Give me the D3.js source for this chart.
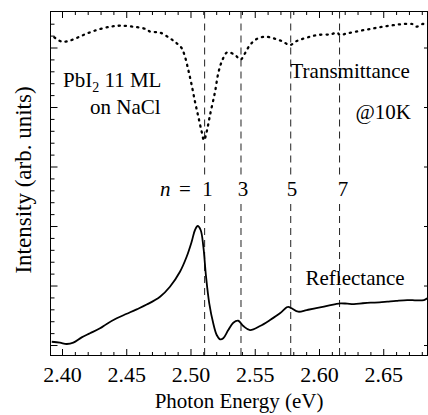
<!DOCTYPE html>
<html>
<head>
<meta charset="utf-8">
<script src="https://cdn.jsdelivr.net/npm/d3@7"></script>
<style>
  body { margin: 0; background: #fff; }
</style>
</head>
<body>
<div class="chart"></div>
<script>
// PbI2 11 ML on NaCl, transmittance (dotted) and reflectance (solid) at 10 K

// photon energy (eV) of the transmittance trace
var transE = [2.394, 2.400, 2.4075, 2.4166, 2.427, 2.4374, 2.4451, 2.4555, 2.4659, 2.4685,
  2.4763, 2.4840, 2.4893, 2.4932, 2.4957, 2.4983, 2.5009, 2.5035, 2.5061, 2.5087,
  2.5105, 2.5126, 2.5152, 2.5191, 2.5216, 2.5243, 2.5286, 2.5346, 2.5390, 2.5424,
  2.5463, 2.5515, 2.5580, 2.5644, 2.5710, 2.5774, 2.5826, 2.5904, 2.5987, 2.6091,
  2.6142, 2.6163, 2.6220, 2.6324, 2.6428, 2.6531, 2.6636, 2.6726, 2.6760, 2.6804, 2.6843];
// transmittance intensity (arb. units)
var transI = [5.171, 5.097, 5.126, 5.210, 5.294, 5.350, 5.366, 5.350, 5.306, 5.266,
  5.250, 5.155, 5.071, 4.987, 4.845, 4.622, 4.370, 4.089, 3.837, 3.585,
  3.440, 3.585, 3.866, 4.257, 4.566, 4.761, 4.919, 4.874, 4.798, 4.903,
  5.042, 5.143, 5.182, 5.155, 5.109, 5.042, 5.109, 5.165, 5.210, 5.222,
  5.249, 5.210, 5.239, 5.282, 5.323, 5.361, 5.390, 5.395, 5.350, 5.395, 5.378];

// photon energy (eV) of the reflectance trace
var reflE = [2.392, 2.3984, 2.4037, 2.4088, 2.4153, 2.4218, 2.4296, 2.4348, 2.4426, 2.4504,
  2.4581, 2.4659, 2.4763, 2.4840, 2.4918, 2.4970, 2.5009, 2.5035, 2.5056,
  2.5079, 2.5100, 2.5121, 2.5146, 2.5177, 2.5204, 2.5230, 2.5255, 2.5294, 2.5333,
  2.5372, 2.5411, 2.5463, 2.5541, 2.5619, 2.5696, 2.5749, 2.5762, 2.5787, 2.5839,
  2.5904, 2.5970, 2.6039, 2.6130, 2.6169, 2.6220, 2.6272, 2.6340, 2.6402, 2.6470,
  2.6531, 2.6600, 2.6687, 2.6760, 2.6817, 2.6843];
// reflectance intensity (arb. units)
var reflI = [0.055, 0.039, 0.017, 0.039, 0.129, 0.197, 0.281, 0.355, 0.449, 0.525,
  0.600, 0.680, 0.812, 0.980, 1.232, 1.484, 1.736, 1.933, 2.000,
  1.933, 1.652, 1.148, 0.701, 0.365, 0.168, 0.096, 0.113, 0.252, 0.375,
  0.408, 0.319, 0.252, 0.319, 0.420, 0.533, 0.634, 0.642, 0.617, 0.560,
  0.588, 0.615, 0.644, 0.689, 0.701, 0.695, 0.689, 0.702, 0.711, 0.716,
  0.728, 0.742, 0.756, 0.750, 0.756, 0.785];

// exciton series positions
var excitonE = [2.511, 2.5393, 2.578, 2.616];
var excitonN = ["1", "3", "5", "7"];

// axis ticks
var xMajor = [2.40, 2.45, 2.50, 2.55, 2.60, 2.65];
var xTickLabels = ["2.40", "2.45", "2.50", "2.55", "2.60", "2.65"];
var yMajor = [0, 1, 2, 3, 4, 5];

var serif = "Times New Roman";

var svgWidth = 428;
var svgHeight = 415;

var box = { left: 50.5, right: 427.5, top: 11.5, bottom: 355.5 };

var svg = d3.select(".chart")
  .append("svg")
  .attr("width", svgWidth)
  .attr("height", svgHeight);

var xScale = d3.scaleLinear()
  .domain([2.39105, 2.68444])
  .range([box.left, box.right]);

var yScale = d3.scaleLinear()
  .domain([-0.176, 5.605])
  .range([box.bottom, box.top]);

var xMinor = d3.range(240, 269).map(d => d / 100).filter(d => Math.round(d * 100) % 5 !== 0);
var yMinor = d3.range(0, 28).map(d => d / 5).filter(d => Math.round(d * 5) % 5 !== 0);

//__________________________________________________________________________________
// tick marks point inward on all four sides
function addAxis(axis, tx, ty) {
  var g = svg.append("g")
    .attr("transform", `translate(${tx}, ${ty})`)
    .call(axis);
  g.attr("font-family", serif).attr("font-size", 22);
  g.select(".domain").remove();
  g.selectAll(".tick line").attr("stroke", "#000");
  g.selectAll(".tick text").attr("fill", "#000");
  return g;
}

addAxis(d3.axisBottom(xScale).tickValues(xMinor).tickSizeInner(-3.5).tickSizeOuter(0).tickFormat(""), 0, box.bottom);
addAxis(d3.axisBottom(xScale).tickValues(xMajor).tickSizeInner(-6.5).tickSizeOuter(0)
  .tickPadding(11).tickFormat((d, i) => xTickLabels[i]), 0, box.bottom);
addAxis(d3.axisTop(xScale).tickValues(xMinor).tickSizeInner(-3.5).tickSizeOuter(0).tickFormat(""), 0, box.top);
addAxis(d3.axisTop(xScale).tickValues(xMajor).tickSizeInner(-6.5).tickSizeOuter(0).tickFormat(""), 0, box.top);
addAxis(d3.axisLeft(yScale).tickValues(yMinor).tickSizeInner(-4).tickSizeOuter(0).tickFormat(""), box.left, 0);
addAxis(d3.axisLeft(yScale).tickValues(yMajor).tickSizeInner(-7).tickSizeOuter(0).tickFormat(""), box.left, 0);
addAxis(d3.axisRight(yScale).tickValues(yMajor).tickSizeInner(-3.5).tickSizeOuter(0).tickFormat(""), box.right, 0);

svg.append("rect")
  .attr("x", box.left)
  .attr("y", box.top)
  .attr("width", box.right - box.left)
  .attr("height", box.bottom - box.top)
  .attr("fill", "none")
  .attr("stroke", "#000")
  .attr("stroke-width", 1);

//__________________________________________________________________________________
// exciton dashed markers, broken around the n labels
excitonE.forEach(function(e) {
  [[box.top, 178], [204, box.bottom]].forEach(function(seg) {
    svg.append("line")
      .attr("x1", xScale(e))
      .attr("x2", xScale(e))
      .attr("y1", seg[0])
      .attr("y2", seg[1])
      .attr("stroke", "#222")
      .attr("stroke-width", 1)
      .attr("stroke-dasharray", "7,5");
  });
});

//__________________________________________________________________________________
// traces
var line = d3.line()
  .x(d => xScale(d[0]))
  .y(d => yScale(d[1]))
  .curve(d3.curveCatmullRom.alpha(0.5));

var transData = transE.map((e, i) => [e, transI[i]]);
var reflData = reflE.map((e, i) => [e, reflI[i]]);

svg.append("path")
  .attr("d", line(transData))
  .attr("fill", "none")
  .attr("stroke", "#000")
  .attr("stroke-width", 2.3)
  .attr("stroke-linecap", "round")
  .attr("stroke-dasharray", "1.2,5");

svg.append("path")
  .attr("d", line(reflData))
  .attr("fill", "none")
  .attr("stroke", "#000")
  .attr("stroke-width", 1.8);

//__________________________________________________________________________________
// labels
function addText(x, y, str, anchor) {
  return svg.append("text")
    .attr("x", x)
    .attr("y", y)
    .attr("text-anchor", anchor || "start")
    .attr("font-family", serif)
    .attr("font-size", 21)
    .attr("fill", "#000")
    .text(str);
}

var pb = addText(63, 87, "PbI");
pb.append("tspan").attr("dy", 5).attr("font-size", 14).text("2");
pb.append("tspan").attr("dy", -5).text(" 11 ML");
addText(90, 114, "on NaCl");
addText(290.5, 78, "Transmittance");
addText(355.5, 119, "@10K");
addText(305.5, 285, "Reflectance");

addText(160, 196, "n").attr("font-style", "italic");
addText(185, 196, "=", "middle");
var nLabelX = [207.5, 243, 292, 343];
excitonN.forEach(function(n, i) {
  addText(nLabelX[i], 196, n, "middle");
});

// axis titles
addText(239, 408, "Photon Energy (eV)", "middle");

svg.append("text")
  .attr("transform", "translate(31, 180) rotate(-90)")
  .attr("text-anchor", "middle")
  .attr("font-family", serif)
  .attr("font-size", 23)
  .attr("fill", "#000")
  .text("Intensity (arb. units)");
</script>
</body>
</html>
